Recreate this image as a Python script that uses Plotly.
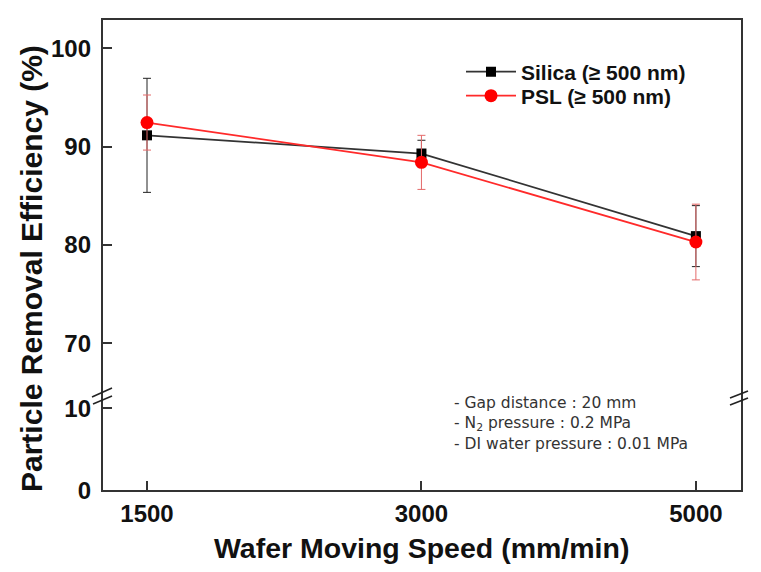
import plotly.graph_objects as go

# ---- data ----
speeds = ["1500", "3000", "5000"]
silica = [91.15, 89.3, 80.9]
silica_err = [5.8, 1.35, 3.1]
psl = [92.45, 88.4, 80.3]
psl_err = [2.8, 2.75, 3.85]
upper_ticks = [70, 80, 90, 100]
lower_ticks = [0, 10]
conditions = ["- Gap distance : 20 mm",
              "- N<sub>2</sub> pressure : 0.2 MPa",
              "- DI water pressure : 0.01 MPa"]

W, H = 761, 572
L, R, T, B = 102, 19, 19, 81
PW, PH = W - L - R, H - T - B
brk = (491 - 397) / PH  # domain split


def px(x):
    return (x - L) / PW


def py(y):
    return (H - B - y) / PH


BOLD = dict(family="Arial, Liberation Sans, sans-serif", color="#111", weight="bold")

fig = go.Figure()
fig.add_trace(go.Scatter(
    x=speeds, y=silica, name="Silica (\u2265 500 nm)", mode="lines+markers",
    line=dict(color="#333333", width=1.8),
    marker=dict(symbol="square", size=10, color="#000000"),
    error_y=dict(type="data", array=silica_err, color="#222222", thickness=1, width=4),
    xaxis="x", yaxis="y", legend="legend"))
fig.add_trace(go.Scatter(
    x=speeds, y=psl, name="PSL (\u2265 500 nm)", mode="lines+markers",
    line=dict(color="#ff2a2a", width=1.8),
    marker=dict(symbol="circle", size=13, color="#ff0000"),
    error_y=dict(type="data", array=psl_err, color="#e46a6a", thickness=1, width=4),
    xaxis="x", yaxis="y", legend="legend2"))
# empty trace so that the lower (0-10) axis segment exists
fig.add_trace(go.Scatter(x=speeds, y=[None] * len(speeds), xaxis="x", yaxis="y2",
                         mode="markers", showlegend=False, hoverinfo="skip"))

axis_common = dict(ticks="inside", ticklen=10, tickwidth=2, tickcolor="#333",
                   showgrid=False, zeroline=False, showline=False, automargin=False,
                   tickfont=dict(size=24, **BOLD))

legend_common = dict(xanchor="left", yanchor="middle", bgcolor="rgba(0,0,0,0)",
                     itemwidth=50, font=dict(size=21, **BOLD))

fig.update_layout(
    width=W, height=H,
    margin=dict(l=L, r=R, t=T, b=B, autoexpand=False),
    paper_bgcolor="white", plot_bgcolor="white",
    xaxis=dict(type="category", range=[-0.164, 2.168], anchor="y2",
               tickvals=speeds, ticktext=speeds, ticklabelstandoff=6, **axis_common),
    yaxis=dict(domain=[brk, 1], range=[64.54, 102.98], anchor="x",
               tickvals=upper_ticks, ticklabelstandoff=10, **axis_common),
    yaxis2=dict(domain=[0, brk], range=[0, 11.37], anchor="x",
                tickvals=lower_ticks, ticklabelstandoff=10, **axis_common),
    showlegend=True,
    legend=dict(x=px(461), y=py(72), **legend_common),
    legend2=dict(x=px(461), y=py(96), **legend_common),
)

shapes = [dict(type="rect", xref="paper", yref="paper", x0=0, x1=1, y0=0, y1=1,
               line=dict(color="#333", width=2))]
for (x0, y0, x1, y1) in [(92, 397, 112, 388), (93, 404, 112, 396),
                         (730, 398, 748, 391), (730, 405, 748, 398)]:
    shapes.append(dict(type="line", xref="paper", yref="paper",
                       x0=px(x0), y0=py(y0), x1=px(x1), y1=py(y1),
                       line=dict(color="#222", width=1.6)))
fig.update_layout(shapes=shapes)

ann = []
for i, t in enumerate(conditions):
    ann.append(dict(text=t, xref="paper", yref="paper", x=px(452), y=py(403 + 20.6 * i),
                    xanchor="left", yanchor="middle", showarrow=False,
                    font=dict(family="DejaVu Sans, sans-serif", size=15.5, color="#333")))
ann.append(dict(text="Wafer Moving Speed (mm/min)", xref="paper", yref="paper",
                x=px(421), y=py(548), xanchor="center", yanchor="middle", showarrow=False,
                font=dict(size=28.5, **BOLD)))
ann.append(dict(text="Particle Removal Efficiency (%)", xref="paper", yref="paper",
                x=px(31), y=py(269), xanchor="center", yanchor="middle", showarrow=False,
                textangle=-90, font=dict(size=30, **BOLD)))
fig.update_layout(annotations=ann)

fig.write_html("out.html", config={"displayModeBar": False},
               post_script="document.body.style.margin='0px';")
